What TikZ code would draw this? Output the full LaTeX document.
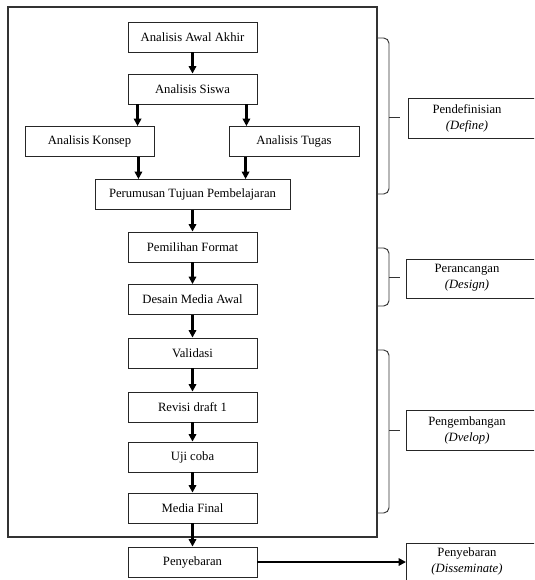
\documentclass[tikz,border=0pt]{standalone}
\usepackage{fontspec}
\setmainfont{Liberation Serif}
\usetikzlibrary{arrows.meta,positioning,calc}

\tikzset{
  stepbox/.style={draw=black!85, line width=0.65pt, fill=white, minimum width=96.75pt,
    minimum height=22.5pt, inner sep=2pt},
  phasebox/.style={draw=black!85, line width=0.65pt, fill=white, anchor=north west},
  phasetext/.style={align=center, inner sep=1pt},
  arr/.style={-{Triangle[length=5.5pt,width=5.5pt]}, line width=1.9pt},
  phasebrace/.style={line width=0.7pt, black!80, rounded corners=4pt}
}

\begin{document}
\begin{tikzpicture}[x=0.75pt, y=-0.75pt, font=\fontsize{9.5}{12}\selectfont]
\useasboundingbox (0,0) rectangle (534,580);
\clip (0,0) rectangle (534,580);

% frame round the first three phases
\draw[line width=0.9pt, black!80] (8,7) rectangle (377,537);

% steps
\node[stepbox] (awal) at (192.5,37) {Analisis Awal Akhir};
\node[stepbox] (siswa) at (192.5,89) {Analisis Siswa};
\node[stepbox] (konsep) at (89.5,141.5) {Analisis Konsep};
\node[stepbox, minimum width=97.5pt] (tugas) at (294,141.5) {Analisis Tugas};
\node[stepbox, minimum width=146.25pt] (perumusan) at (192.5,194.5) {Perumusan Tujuan Pembelajaran};
\node[stepbox] (format) at (192.5,247) {Pemilihan Format};
\node[stepbox] (desain) at (192.5,299.5) {Desain Media Awal};
\node[stepbox] (validasi) at (192.5,353) {Validasi};
\node[stepbox] (revisi) at (192.5,407) {Revisi draft 1};
\node[stepbox] (uji) at (192.5,457) {Uji coba};
\node[stepbox] (final) at (192.5,508) {Media Final};
\node[stepbox] (sebar) at (192.5,562) {Penyebaran};

% arrows
\draw[arr] (awal) -- (siswa);
\draw[arr] ([xshift=7.5pt]siswa.south west) -- ([xshift=7.5pt]siswa.south west |- konsep.north);
\draw[arr] ([xshift=-8.25pt]siswa.south east) -- ([xshift=-8.25pt]siswa.south east |- tugas.north);
\draw[arr] ([xshift=-12pt]konsep.south east) -- ([xshift=-12pt]konsep.south east |- perumusan.north);
\draw[arr] ([xshift=12.75pt]tugas.south west) -- ([xshift=12.75pt]tugas.south west |- perumusan.north);
\foreach \a/\b in {perumusan/format, format/desain, desain/validasi, validasi/revisi,
  revisi/uji, uji/final, final/sebar}
  \draw[arr] (\a) -- (\b);

% phases
\node[phasebox, minimum width=102.75pt, minimum height=30pt] (define) at (408,98) {};
\node[phasetext] (definetxt) at (467,118) {Pendefinisian\\\textit{(Define)}};
\node[phasebox, minimum width=104.25pt, minimum height=29.25pt] (design) at (406,259) {};
\node[phasetext] (designtxt) at (467,278) {Perancangan\\\textit{(Design)}};
\node[phasebox, minimum width=104.25pt, minimum height=30pt] (develop) at (406,410) {};
\node[phasetext] (developtxt) at (467,430) {Pengembangan\\\textit{(Dvelop)}};
\node[phasebox, minimum width=104.25pt, minimum height=39pt] (dissem) at (406,543) {};
\node[phasetext] (dissemtxt) at (467,561) {Penyebaran\\\textit{(Disseminate)}};

\draw[arr, line width=1.5pt] (sebar.east) -- (sebar.east -| dissem.west);

% braces: top / tip / bottom
\foreach \t/\m/\b in {38/117/194, 248/277/306, 350/430/513} {
  \draw[phasebrace] (377,\t) -- (389,\t) -- (389,\b) -- (377,\b);
  \draw[line width=0.7pt, black!80] (389,\m) -- (400,\m);
}
\end{tikzpicture}
\end{document}
